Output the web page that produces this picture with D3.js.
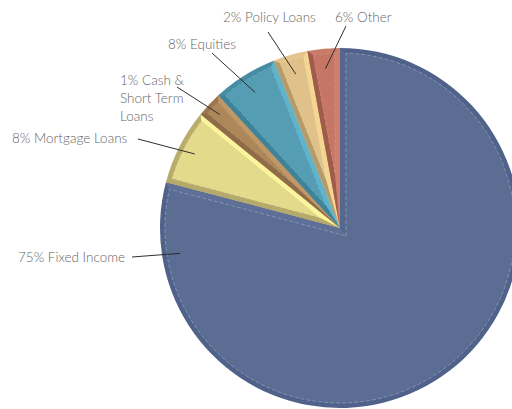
<!DOCTYPE html>
<html>
<head>
<meta charset="utf-8">
<script src="https://cdn.jsdelivr.net/npm/d3@7/dist/d3.min.js"></script>
<style>
  html, body { margin: 0; padding: 0; background: #ffffff; }
  svg { display: block; }
  text { font-family: Lato, "Open Sans", sans-serif; font-weight: 300; fill: #666666; font-size: 13.5px; }
</style>
</head>
<body>
<svg id="chart" width="512" height="409"></svg>
<script>
// ---- data (slice shares as drawn in the reference; label texts as printed) ----
const categories = ["Fixed Income", "Mortgage Loans", "Cash & Short Term Loans", "Equities", "Policy Loans", "Other"];
const values = [79.1, 6.8, 2.3, 5.8, 3.1, 2.9];
const labelLines = [
  ["75% Fixed Income"],
  ["8% Mortgage Loans"],
  ["1% Cash &", "Short Term", "Loans"],
  ["8% Equities"],
  ["2% Policy Loans"],
  ["6% Other"]
];

// ---- style / layout (not data) ----
const palette = [
  { main: "#5b6d93", light: "#5e7097", rim: "#50628a", side0: "#55678c", line: "#97a5c4", w: 6, rw: 5 },
  { main: "#e3da8b", light: "#fcf49c", rim: "#b8ad6c", side0: "#b5a96b", line: "#f1e9a6", w: 5, rw: 5 },
  { main: "#ad8659", light: "#c09868", rim: "#9c7650", side0: "#8f6b48", line: "#c9a77e", w: 5, rw: 5 },
  { main: "#549db3", light: "#5eb4cc", rim: "#468da3", side0: "#3f8398", line: "#8ec4d4", w: 5, rw: 5 },
  { main: "#dfc189", light: "#f4d592", rim: "#e3c48c", side0: "#b49b6b", line: "#f0dbb0", w: 5, rw: 5 },
  { main: "#c67664", light: "#ce806d", rim: "#c97a68", side0: "#a05c4b", line: "#dea393", w: 5, rw: 5 }
];
const labelLayout = [
  { x: 18,  y: 257, lx: 132, ly: 257, angle: 261, r: 162 },
  { x: 12,  y: 138, lx: 138, ly: 139, r: 163 },
  { x: 120, y: 80,  lx: 177, ly: 87,  r: 165, lh: 18 },
  { x: 168, y: 44,  lx: 212, ly: 53,  r: 160 },
  { x: 223, y: 17,  lx: 268, ly: 32,  r: 160 },
  { x: 335, y: 17,  lx: 346, ly: 26,  r: 160 }
];

const cx = 340, cy = 228, R = 180;
const svg = d3.select("#chart");
const g = svg.append("g");

const pie = d3.pie().sort(null).value(d => d).startAngle(0).endAngle(2 * Math.PI);
const arcs = pie(values);

const u = a => [Math.sin(a), -Math.cos(a)];
const pt = (a, r) => [cx + r * Math.sin(a), cy - r * Math.cos(a)];

function rayHit(P, a, rad) {
  const [ux, uy] = u(a);
  const dx = P[0] - cx, dy = P[1] - cy;
  const b = dx * ux + dy * uy;
  const c = dx * dx + dy * dy - rad * rad;
  const t = -b + Math.sqrt(Math.max(0, b * b - c));
  return [P[0] + t * ux, P[1] + t * uy];
}
const theta = p => Math.atan2(p[1] - cy, p[0] - cx);

function wedgePath(apex, a0, a1, rad) {
  const s = rayHit(apex, a0, rad), e = rayHit(apex, a1, rad);
  let t0 = theta(s), t1 = theta(e);
  while (t1 <= t0) t1 += 2 * Math.PI;
  const p = d3.path();
  p.moveTo(apex[0], apex[1]);
  p.lineTo(s[0], s[1]);
  p.arc(cx, cy, rad, t0, t1, false);
  p.closePath();
  return p.toString();
}
function poly(points) {
  const p = d3.path();
  p.moveTo(points[0][0], points[0][1]);
  points.slice(1).forEach(q => p.lineTo(q[0], q[1]));
  p.closePath();
  return p.toString();
}

arcs.forEach((d, i) => {
  const c = palette[i];
  const a0 = d.startAngle, a1 = d.endAngle;
  const half = (a1 - a0) / 2, mid = (a0 + a1) / 2;
  const w = c.w;
  const qd = w / Math.sin(half);
  const Q = [cx + qd * u(mid)[0], cy + qd * u(mid)[1]];
  const C = [cx, cy];
  const outer0 = pt(a0, R), outer1 = pt(a1, R);
  const in0 = rayHit(Q, a0, R - c.rw), in1 = rayHit(Q, a1, R - c.rw);

  g.append("path").attr("d", wedgePath(C, a0, a1, R)).attr("fill", c.rim);
  g.append("path").attr("d", poly([C, outer0, in0, Q])).attr("fill", c.side0);
  g.append("path").attr("d", poly([C, Q, in1, outer1])).attr("fill", c.light);
  g.append("path").attr("d", wedgePath(Q, a0, a1, R - c.rw)).attr("fill", c.main)
    .attr("stroke", c.line).attr("stroke-width", 0.8).attr("stroke-dasharray", "4,2")
    .attr("stroke-opacity", i === 0 ? 0.85 : 0.5);
});

arcs.forEach((d, i) => {
  const L = labelLayout[i];
  const ang = L.angle !== undefined ? L.angle * Math.PI / 180 : (d.startAngle + d.endAngle) / 2;
  const end = pt(ang, L.r);
  g.append("line")
    .attr("x1", L.lx).attr("y1", L.ly).attr("x2", end[0]).attr("y2", end[1])
    .attr("stroke", "#2e2e2e").attr("stroke-width", 1);
  const t = g.append("text").attr("x", L.x).attr("y", L.y).attr("dominant-baseline", "central");
  labelLines[i].forEach((line, k) => {
    t.append("tspan").attr("x", L.x).attr("y", L.y + k * (L.lh || 0)).text(line);
  });
});
</script>
</body>
</html>
